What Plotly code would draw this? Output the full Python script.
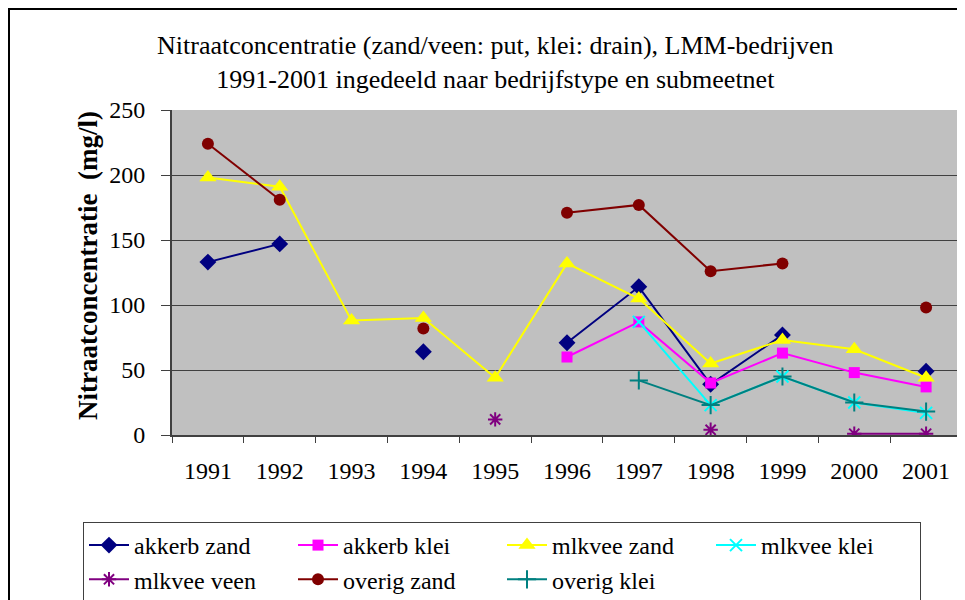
import plotly.graph_objects as go

years = ["1991", "1992", "1993", "1994", "1995", "1996", "1997", "1998", "1999", "2000", "2001"]

akkerb_zand = [133, 147, None, 64, None, 71, 114, 39, 77, None, 49]
akkerb_klei = [None, None, None, None, None, 60, 87, 40, 63, 48, 37]
mlkvee_zand = [198, 191, 88, 90, 44, 132, 105, 55, 73, 66, 44]
mlkvee_klei = [None, None, None, None, None, None, 87, 23, 45, 25, 17]
mlkvee_veen = [None, None, None, None, 12, None, None, 4, None, 1, 1]
overig_zand = [224, 181, None, 82, None, 171, 177, 126, 132, None, 98]
overig_klei = [None, None, None, None, None, None, 42, 23, 45, 25, 18]

y_ticks = [0, 50, 100, 150, 200, 250]

series = [
    ("akkerb zand", akkerb_zand, "#000080", "diamond", 13, 0),
    ("akkerb klei", akkerb_klei, "#FF00FF", "square", 11, 0),
    ("mlkvee zand", mlkvee_zand, "#FFFF00", "triangle-up", 15, 0),
    ("mlkvee klei", mlkvee_klei, "#00FFFF", "x-thin", 12, 2),
    ("mlkvee veen", mlkvee_veen, "#800080", "asterisk", 12, 2),
    ("overig zand", overig_zand, "#800000", "circle", 12, 0),
    ("overig klei", overig_klei, "#008080", "cross-thin", 13, 2),
]

fig = go.Figure()
for name, vals, col, sym, size, lw in series:
    marker = dict(color=col, symbol=sym, size=size)
    if lw:
        marker["line"] = dict(color=col, width=lw)
    else:
        marker["line"] = dict(width=0)
    fig.add_trace(go.Scatter(
        x=years, y=vals, name=name, mode="lines+markers",
        line=dict(color=col, width=2), marker=marker, connectgaps=False,
    ))

serif = "Liberation Serif"

# page places the figure 8px in from the top-left; plot area on screen 172..962 x 110..435
PL, PT, PW, PH = 164, 102, 790, 325

fig.update_layout(
    width=965, height=600,
    margin=dict(l=PL, r=965 - PL - PW, t=PT, b=600 - PT - PH, autoexpand=False),
    paper_bgcolor="white", plot_bgcolor="#C0C0C0",
    font=dict(family=serif, color="black", size=24),
    title=dict(
        text="Nitraatconcentratie (zand/veen: put, klei: drain), LMM-bedrijven<br>1991-2001 ingedeeld naar bedrijfstype en submeetnet",
        x=0.505, xanchor="center", xref="container",
        y=1 - 46 / 600, yanchor="middle", yref="container",
        font=dict(family=serif, size=26),
    ),
    legend=dict(
        orientation="h", xref="paper", x=(75 - PL) / PW, xanchor="left",
        yref="paper", y=(PT + PH - 514) / PH, yanchor="top",
        entrywidth=154, bordercolor="#404040", borderwidth=1,
        font=dict(family=serif, size=24), bgcolor="white",
        itemwidth=40, tracegroupgap=0,
    ),
    showlegend=True,
)

fig.update_xaxes(
    type="category", tickson="boundaries", ticks="outside", ticklen=6,
    tickcolor="#404040", showline=True, linecolor="#404040", linewidth=2,
    showgrid=False, ticklabelstandoff=13, tickfont=dict(size=24),
    range=[-0.5, 10.5],
)
fig.update_yaxes(
    range=[0, 250], tickvals=y_ticks, ticks="outside", ticklen=9,
    tickcolor="#404040", showline=True, linecolor="#404040", linewidth=2,
    showgrid=True, gridcolor="#404040", gridwidth=1, zeroline=False,
    tickfont=dict(size=24), ticklabelstandoff=11,
)

fig.add_annotation(
    text="<b>Nitraatconcentratie  (mg/l)</b>", textangle=-90, showarrow=False,
    xref="paper", yref="paper", x=(80 - PL) / PW, y=(PT + PH - 258) / PH,
    xanchor="center", yanchor="middle", font=dict(family=serif, size=27),
)

# plot area right border (gray)
fig.add_shape(type="line", xref="paper", yref="paper", x0=1, x1=1, y0=0, y1=1,
              line=dict(color="#808080", width=2))
# outer chart border
fig.add_shape(type="rect", xref="paper", yref="paper",
              x0=(1 - PL) / PW, x1=1.1, y0=-0.7, y1=(PT + PH - 1) / PH,
              line=dict(color="black", width=2))

fig.write_html("out.html")
